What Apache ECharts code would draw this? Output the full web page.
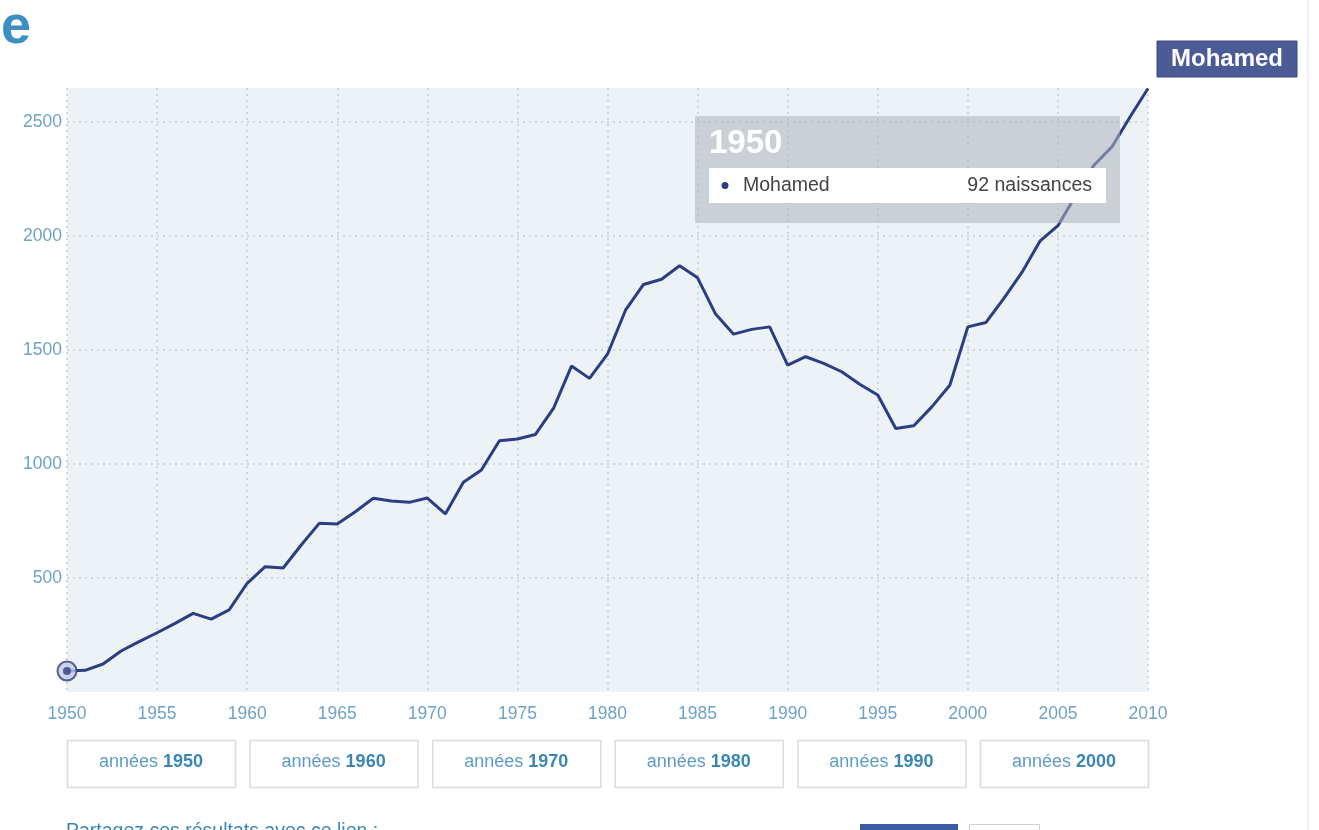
<!DOCTYPE html>
<html>
<head>
<meta charset="utf-8">
<script src="https://cdn.jsdelivr.net/npm/echarts@6/dist/echarts.min.js"></script>
<style>
html,body{margin:0;padding:0;background:#fff;}
#chart{width:1319px;height:830px;}
</style>
</head>
<body>
<div id="chart"></div>
<script>
var seriesName = 'Mohamed';
var years = [1950,1951,1952,1953,1954,1955,1956,1957,1958,1959,
             1960,1961,1962,1963,1964,1965,1966,1967,1968,1969,
             1970,1971,1972,1973,1974,1975,1976,1977,1978,1979,
             1980,1981,1982,1983,1984,1985,1986,1987,1988,1989,
             1990,1991,1992,1993,1994,1995,1996,1997,1998,1999,
             2000,2001,2002,2003,2004,2005,2006,2007,2008,2009,2010];
var births = [92,95,123,180,221,260,301,345,320,360,
              477,550,544,645,740,737,791,850,838,832,
              851,781,920,974,1102,1110,1130,1244,1430,1376,
              1482,1675,1788,1811,1870,1817,1658,1570,1591,1602,
              1434,1471,1442,1405,1350,1303,1156,1168,1251,1346,
              1602,1621,1727,1841,1978,2046,2180,2311,2392,2523,2648];
var yTicks = [500,1000,1500,2000,2500];
var decades = [1950,1960,1970,1980,1990,2000];
var decadePrefix = 'années ';
var unitLabel = 'naissances';
var shareText = 'Partagez ces résultats avec ce lien :';

var FONT = '"Liberation Sans", Arial, Helvetica, sans-serif';
var LABEL = '#6fa2c8';
var NAVY = '#2c3e82';
var GRIDC = '#c6cbcf';

var lineData = years.map(function(y,i){ return [y, births[i]]; });
var hi = [[years[0], births[0]]];

var graphics = [];
// cropped title letter
graphics.push({type:'text', left:1, top:1, z:10,
  style:{text:'e', font:'bold 54px ' + FONT, fill:'#3b8fc3'}});
// page separator on the right
graphics.push({type:'rect', shape:{x:1307,y:0,width:2,height:830}, style:{fill:'#efefef'}, z:1});
// series name tag
graphics.push({type:'rect', shape:{x:1157,y:41,width:140,height:36},
  style:{fill:'#4b5b95', stroke:'#3a4a85', lineWidth:1}, z:20});
graphics.push({type:'text', x:1227, y:59, z:21,
  style:{text:seriesName, font:'bold 24px ' + FONT, fill:'#ffffff', align:'center', verticalAlign:'middle'}});
// tooltip-like box
graphics.push({type:'rect', shape:{x:695,y:116,width:425,height:107},
  style:{fill:'rgba(175,180,185,0.55)'}, z:20});
graphics.push({type:'text', x:709, y:144, z:21,
  style:{text:String(years[0]), font:'bold 33px ' + FONT, fill:'#ffffff', verticalAlign:'middle'}});
graphics.push({type:'rect', shape:{x:709,y:168,width:397,height:35},
  style:{fill:'#ffffff'}, z:21});
graphics.push({type:'circle', shape:{cx:725,cy:185.5,r:3.5}, style:{fill:NAVY}, z:22});
graphics.push({type:'text', x:743, y:185.5, z:22,
  style:{text:seriesName, font:'19.5px ' + FONT, fill:'#444', verticalAlign:'middle'}});
graphics.push({type:'text', x:1092, y:185.5, z:22,
  style:{text:births[0] + ' ' + unitLabel, font:'19.5px ' + FONT, fill:'#444', align:'right', verticalAlign:'middle'}});
// decade buttons
var bx0 = 67, bw = 168, bgap = 14.6;
decades.forEach(function(d,i){
  var x = bx0 + i*(bw+bgap);
  graphics.push({type:'rect', shape:{x:x+0.5,y:740.5,width:bw,height:47},
    style:{fill:'#ffffff', stroke:'#dcdcdc', lineWidth:1.5}, z:5});
  graphics.push({type:'text', x:x+bw/2, y:762, z:6,
    style:{text:'{a|' + decadePrefix + '}{b|' + d + '}', align:'center', verticalAlign:'middle',
      rich:{a:{font:'18px ' + FONT, fill:'#5f9cc4'}, b:{font:'bold 18px ' + FONT, fill:'#3a86b5'}}}});
});
// bottom, cut by the window
graphics.push({type:'text', x:66, y:822, z:6,
  style:{text:shareText, font:'19.5px ' + FONT, fill:'#3a86b5', verticalAlign:'top'}});
graphics.push({type:'rect', shape:{x:860,y:824,width:98,height:12}, style:{fill:'#3b5ba5'}, z:6});
graphics.push({type:'rect', shape:{x:969.5,y:824.5,width:70,height:12}, style:{fill:'#fff', stroke:'#cfcfcf', lineWidth:1}, z:6});

var chart = echarts.init(document.getElementById('chart'));
chart.setOption({
  animation:false,
  backgroundColor:'#ffffff',
  grid:{left:67, right:171, top:88, bottom:138, show:true, backgroundColor:'#ecf2f6', borderWidth:0},
  xAxis:{type:'value', min:1950, max:2010, interval:5,
    axisLine:{show:false}, axisTick:{show:false},
    axisLabel:{color:LABEL, fontSize:17.5, fontFamily:FONT, margin:13,
      formatter:function(v){ return String(v); }},
    splitLine:{show:true, lineStyle:{color:GRIDC, type:[2,4], width:1.5}}},
  yAxis:{type:'value', min:0, max:2650, interval:500,
    axisLine:{show:false}, axisTick:{show:false},
    axisLabel:{color:LABEL, fontSize:17.5, fontFamily:FONT, margin:5,
      formatter:function(v){ return yTicks.indexOf(v) >= 0 ? String(v) : ''; }},
    splitLine:{show:false}},
  series:[
    {type:'line', name:seriesName, data:lineData, showSymbol:false, z:3,
     lineStyle:{color:NAVY, width:3}, itemStyle:{color:NAVY},
     markLine:{silent:true, symbol:['none','none'], label:{show:false},
       lineStyle:{color:GRIDC, type:[2,4], width:1.5},
       data:yTicks.map(function(t){ return {yAxis:t}; }), z:1}},
    {type:'scatter', data:hi, symbolSize:19, z:4,
     itemStyle:{color:'#c3c9e0', borderColor:NAVY, borderWidth:2}},
    {type:'scatter', data:hi, symbolSize:8, z:5, itemStyle:{color:NAVY}}
  ],
  graphic:graphics
});
</script>
</body>
</html>
